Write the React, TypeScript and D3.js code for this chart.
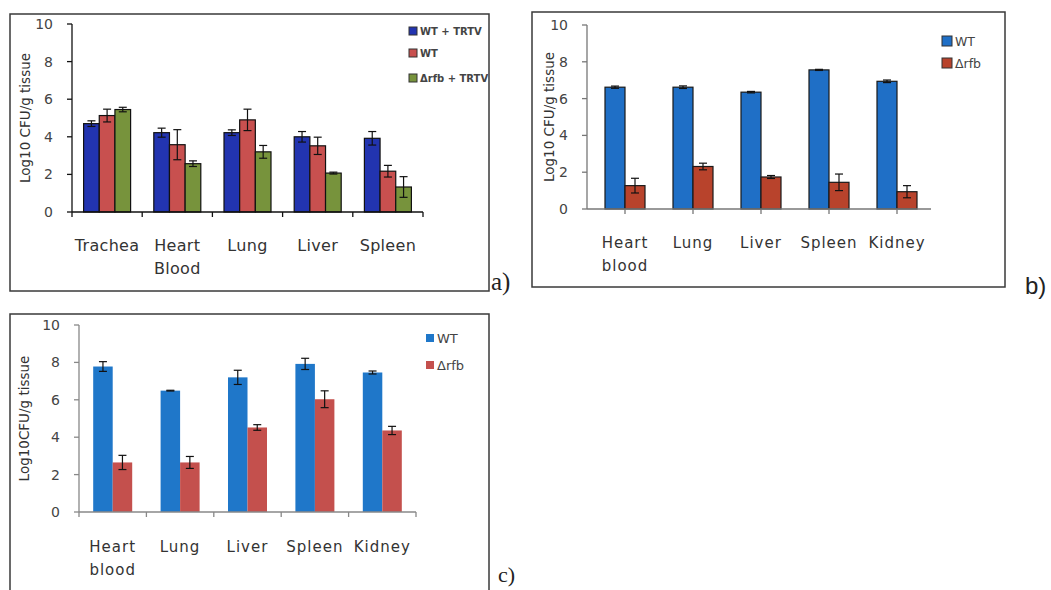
import React from "react";
import * as d3 from "d3";

// ---- data ----
const organsA = ["Trachea", "Heart Blood", "Lung", "Liver", "Spleen"];
const seriesA = ["WT + TRTV", "WT", "Δrfb + TRTV"];
const wtTrtvA = [4.7, 4.22, 4.22, 4.0, 3.92];
const wtTrtvErrA = [0.15, 0.24, 0.15, 0.28, 0.36];
const wtA = [5.13, 3.58, 4.9, 3.52, 2.17];
const wtErrA = [0.34, 0.8, 0.57, 0.46, 0.31];
const rfbTrtvA = [5.45, 2.57, 3.2, 2.07, 1.33];
const rfbTrtvErrA = [0.12, 0.15, 0.34, 0.05, 0.55];

const organsB = ["Heart blood", "Lung", "Liver", "Spleen", "Kidney"];
const seriesB = ["WT", "Δrfb"];
const wtB = [6.62, 6.62, 6.35, 7.56, 6.94];
const wtErrB = [0.06, 0.07, 0.04, 0.03, 0.07];
const rfbB = [1.27, 2.31, 1.74, 1.45, 0.94];
const rfbErrB = [0.4, 0.18, 0.08, 0.45, 0.33];

const organsC = ["Heart blood", "Lung", "Liver", "Spleen", "Kidney"];
const seriesC = ["WT", "Δrfb"];
const wtC = [7.78, 6.49, 7.2, 7.92, 7.46];
const wtErrC = [0.26, 0.02, 0.38, 0.3, 0.08];
const rfbC = [2.65, 2.65, 4.52, 6.03, 4.36];
const rfbErrC = [0.38, 0.32, 0.15, 0.45, 0.22];

const yTicks = [0, 2, 4, 6, 8, 10];

const font = "'DejaVu Sans', Verdana, sans-serif";

function Panel(props) {
  const p = props;
  const y = d3.scaleLinear().domain([0, 10]).range([p.y0, p.y10]);
  const x = d3.scaleBand().domain(p.categories).range([p.xStart, p.xEnd]);
  const inner = d3
    .scaleBand()
    .domain(p.series.map((_, i) => String(i)))
    .range([(x.bandwidth() - p.groupW) / 2, (x.bandwidth() + p.groupW) / 2]);

  const tickXs = p.ticksAtCenter
    ? p.categories.map((c) => x(c) + x.bandwidth() / 2)
    : [...p.categories.map((c) => x(c)), p.xEnd];

  return (
    <g>
      <rect x={p.frame[0]} y={p.frame[1]} width={p.frame[2]} height={p.frame[3]} fill="#fff" stroke="#3a3a3a" strokeWidth={1.5} />
      {/* y axis */}
      <line x1={p.axisX} x2={p.axisX} y1={p.y10} y2={p.y0} stroke={p.axisColor} strokeWidth={1.3} />
      {yTicks.map((t) => (
        <g key={t}>
          <line x1={p.axisX - 5} x2={p.axisX} y1={y(t)} y2={y(t)} stroke={p.axisColor} strokeWidth={1.3} />
          <text x={p.axisX - p.tickLabelGap} y={y(t)} dy="0.36em" textAnchor="end" fontFamily={font} fontSize={14} fill="#444">
            {t}
          </text>
        </g>
      ))}
      <text
        transform={`translate(${p.yLabelX},${(p.y0 + p.y10) / 2}) rotate(-90)`}
        textAnchor="middle"
        fontFamily={font}
        fontSize={13.5}
        fill="#333"
      >
        {p.yLabel}
      </text>
      {/* bars */}
      {p.categories.map((c, ci) =>
        p.values.map((vals, si) => {
          const bx = x(c) + inner(String(si));
          const bw = inner.bandwidth();
          const v = vals[ci];
          const e = p.errors[si][ci];
          const cx = bx + bw / 2;
          return (
            <g key={c + si}>
              <rect x={bx} y={y(v)} width={bw} height={p.y0 - y(v)} fill={p.colors[si]} stroke={p.barStroke || "none"} strokeWidth={1.2} />
              <line x1={cx} x2={cx} y1={y(v + e)} y2={y(v - e)} stroke="#111" strokeWidth={1.2} />
              <line x1={cx - 4} x2={cx + 4} y1={y(v + e)} y2={y(v + e)} stroke="#111" strokeWidth={1.2} />
              <line x1={cx - 4} x2={cx + 4} y1={y(v - e)} y2={y(v - e)} stroke="#111" strokeWidth={1.2} />
            </g>
          );
        })
      )}
      {/* x axis */}
      <line x1={p.axisX} x2={p.xEnd} y1={p.y0} y2={p.y0} stroke={p.axisColor} strokeWidth={1.3} />
      {tickXs.map((tx, i) => (
        <line key={i} x1={tx} x2={tx} y1={p.y0} y2={p.y0 + 5} stroke={p.axisColor} strokeWidth={1.3} />
      ))}
      {p.categories.map((c) => {
        const words = c.split(" ");
        return (
          <text
            key={c}
            x={x(c) + x.bandwidth() / 2}
            y={p.catY}
            textAnchor="middle"
            fontFamily={font}
            fontSize={p.catSize}
            letterSpacing={p.catSpacing}
            fill="#333"
          >
            {words.map((w, i) => (
              <tspan key={i} x={x(c) + x.bandwidth() / 2} dy={i === 0 ? 0 : 23}>
                {w}
              </tspan>
            ))}
          </text>
        );
      })}
      {/* legend */}
      {p.series.map((s, i) => (
        <g key={s}>
          <rect
            x={p.legend.x}
            y={p.legend.ys[i] - p.legend.size / 2}
            width={p.legend.size}
            height={p.legend.size}
            fill={p.colors[i]}
            stroke={p.legend.stroke}
            strokeWidth={1}
          />
          <text
            x={p.legend.x + p.legend.size + 3}
            y={p.legend.ys[i]}
            dy="0.36em"
            fontFamily={font}
            fontSize={p.legend.font}
            fontWeight={p.legend.weight}
            fill="#444"
          >
            {s}
          </text>
        </g>
      ))}
      <text x={p.tag.x} y={p.tag.y} fontFamily={p.tag.family} fontSize={p.tag.size} fill="#222">
        {p.tag.text}
      </text>
    </g>
  );
}

export default function App() {
  return (
    <svg width={1051} height={590} style={{ position: "absolute", left: 0, top: 0, background: "#fff" }}>
      <rect width={1051} height={590} fill="#fff" />
      <Panel
        frame={[10, 14, 479, 277]}
        categories={organsA}
        series={seriesA}
        values={[wtTrtvA, wtA, rfbTrtvA]}
        errors={[wtTrtvErrA, wtErrA, rfbTrtvErrA]}
        colors={["#2234b0", "#c8504f", "#77933c"]}
        barStroke="#111"
        axisX={72}
        xStart={72}
        xEnd={423}
        y0={212}
        y10={24}
        groupW={47}
        ticksAtCenter={false}
        axisColor="#111"
        tickLabelGap={19}
        yLabel="Log10 CFU/g tissue"
        yLabelX={30}
        catY={251}
        catSize={16}
        catSpacing={0.3}
        legend={{ x: 409, ys: [31, 53, 78], size: 8, font: 10, weight: 600, stroke: "#333" }}
        tag={{ x: 491, y: 290, text: "a)", family: "'Liberation Serif', 'Times New Roman', serif", size: 25 }}
      />
      <Panel
        frame={[532, 12, 473, 275]}
        categories={organsB}
        series={seriesB}
        values={[wtB, rfbB]}
        errors={[wtErrB, rfbErrB]}
        colors={["#1f6fc6", "#b8432c"]}
        barStroke="#1a1a1a"
        axisX={587}
        xStart={591}
        xEnd={931}
        y0={209}
        y10={25}
        groupW={40}
        ticksAtCenter={true}
        axisColor="#777"
        tickLabelGap={19}
        yLabel="Log10 CFU/g tissue"
        yLabelX={554}
        catY={248}
        catSize={15}
        catSpacing={1}
        legend={{ x: 942, ys: [41, 63], size: 10, font: 12.5, weight: 400, stroke: "#333" }}
        tag={{ x: 1025, y: 294, text: "b)", family: "'Liberation Sans', Arial, sans-serif", size: 24 }}
      />
      <Panel
        frame={[10, 314, 479, 290]}
        categories={organsC}
        series={seriesC}
        values={[wtC, rfbC]}
        errors={[wtErrC, rfbErrC]}
        colors={["#1f77c9", "#c4504d"]}
        barStroke={null}
        axisX={79}
        xStart={79}
        xEnd={416}
        y0={512}
        y10={325}
        groupW={39}
        ticksAtCenter={false}
        axisColor="#888"
        tickLabelGap={19}
        yLabel="Log10CFU/g tissue"
        yLabelX={29}
        catY={552}
        catSize={15}
        catSpacing={1}
        legend={{ x: 426, ys: [338, 365], size: 8, font: 13, weight: 400, stroke: "none" }}
        tag={{ x: 498, y: 582, text: "c)", family: "'Liberation Serif', 'Times New Roman', serif", size: 22 }}
      />
    </svg>
  );
}
